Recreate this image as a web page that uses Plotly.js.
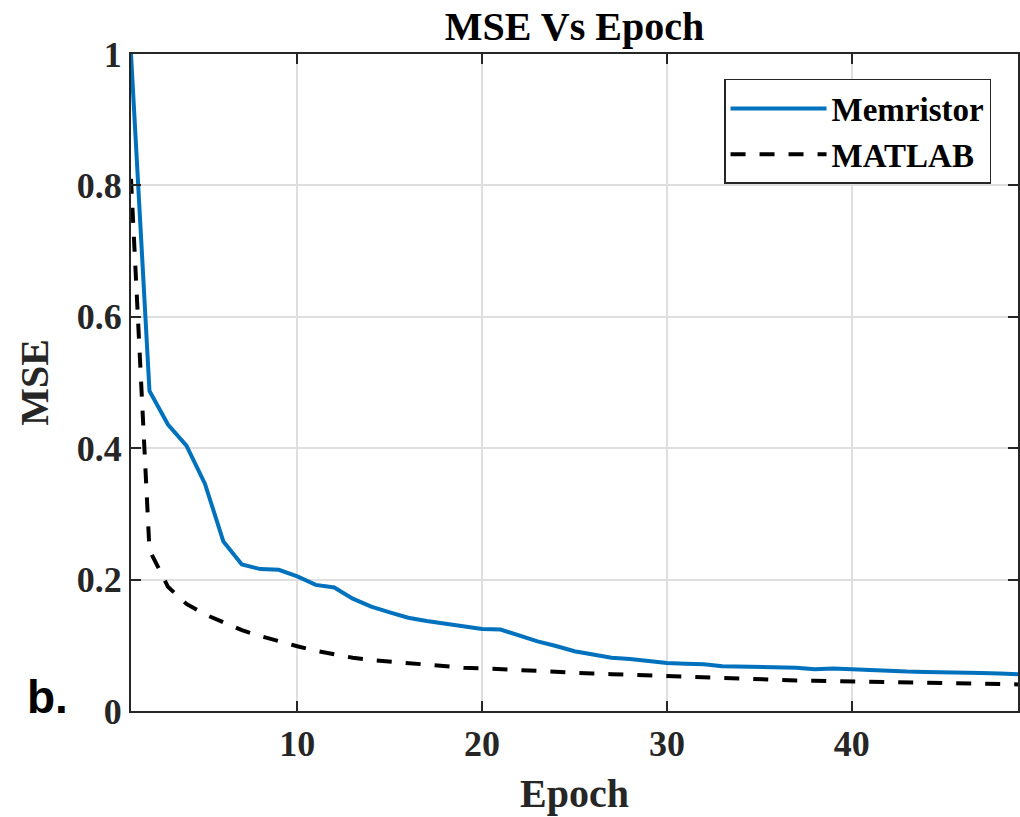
<!DOCTYPE html>
<html>
<head>
<meta charset="utf-8">
<script src="https://cdn.plot.ly/plotly-3.0.1.min.js"></script>
<style>html,body{margin:0;padding:0;background:#fff;}#chart{width:1020px;height:817px;}</style>
</head>
<body>
<div id="chart"></div>
<script>
const epochs = [1,2,3,4,5,6,7,8,9,10,11,12,13,14,15,16,17,18,19,20,21,22,23,24,25,26,27,28,29,30,31,32,33,34,35,36,37,38,39,40,41,42,43,44,45,46,47,48,49];
const memristorMSE = [1.0,0.487,0.436,0.404,0.346,0.258,0.223,0.216,0.215,0.205,0.192,0.188,0.171,0.159,0.150,0.142,0.137,0.133,0.129,0.125,0.124,0.115,0.106,0.099,0.091,0.086,0.081,0.079,0.076,0.073,0.072,0.071,0.068,0.0675,0.0665,0.0655,0.066,0.0635,0.0645,0.0635,0.062,0.061,0.060,0.0595,0.0595,0.059,0.058,0.057,0.056];
const matlabMSE = [0.81,0.245,0.189,0.163,0.147,0.1345,0.123,0.114,0.1055,0.0985,0.0915,0.086,0.081,0.0775,0.075,0.073,0.0705,0.068,0.066,0.065,0.0635,0.0625,0.061,0.0595,0.058,0.057,0.056,0.055,0.054,0.0525,0.0515,0.0505,0.0495,0.0485,0.048,0.047,0.0465,0.046,0.0455,0.045,0.0445,0.0435,0.043,0.0427,0.042,0.0418,0.0412,0.041,0.0405];
const xTickVals = [10,20,30,40];
const xTickText = ['10','20','30','40'];
const yTickVals = [0,0.2,0.4,0.6,0.8,1];
const yTickText = ['0','0.2','0.4','0.6','0.8','1'];
const seriesNames = ['Memristor','MATLAB'];

const serif = 'Liberation Serif, Times New Roman, serif';
const axisCommon = {
  showline: true, linecolor: '#262626', linewidth: 2, mirror: 'ticks',
  ticks: 'inside', ticklen: 10, tickwidth: 2, tickcolor: '#262626',
  showgrid: true, gridcolor: '#dfdfdf', gridwidth: 2, zeroline: false,
  tickfont: {family: serif, size: 36, color: '#262626', weight: 'bold'}
};

const data = [
  {x: epochs, y: memristorMSE, name: seriesNames[0], type: 'scatter', mode: 'lines',
   line: {color: '#0072BD', width: 4}},
  {x: epochs, y: matlabMSE, name: seriesNames[1], type: 'scatter', mode: 'lines',
   line: {color: '#000000', width: 4, dash: '15px,14px'}}
];

const layout = {
  width: 1020, height: 817,
  margin: {l: 131, r: 2, t: 54, b: 106},
  paper_bgcolor: '#fff', plot_bgcolor: '#fff',
  showlegend: true,
  title: {text: 'MSE Vs Epoch', x: 0.5, xref: 'paper', y: 0.985, yref: 'container', yanchor: 'top',
          font: {family: serif, size: 40, color: '#000', weight: 'bold'}},
  xaxis: Object.assign({}, axisCommon, {
    range: [1, 49], tickvals: xTickVals, ticktext: xTickText,
    title: {text: 'Epoch', standoff: 16, font: {family: serif, size: 40, color: '#262626', weight: 'bold'}}
  }),
  yaxis: Object.assign({}, axisCommon, {
    range: [0, 1], tickvals: yTickVals, ticktext: yTickText,
    title: {text: 'MSE', standoff: 16, font: {family: serif, size: 40, color: '#262626', weight: 'bold'}}
  }),
  legend: {x: 0.9696, xanchor: 'right', y: 0.962, yanchor: 'top',
    bgcolor: '#fff', bordercolor: '#262626', borderwidth: 1.5, itemwidth: 96,
    font: {family: serif, size: 33, color: '#000', weight: 'bold'}},
  annotations: [{text: 'b.', xref: 'paper', yref: 'paper', x: -0.0936, y: 0.021,
    xanchor: 'center', yanchor: 'middle', showarrow: false,
    font: {family: 'Liberation Sans, Arial, sans-serif', size: 46, color: '#000', weight: 'bold'}}]
};

Plotly.newPlot('chart', data, layout, {displayModeBar: false, staticPlot: true});
</script>
</body>
</html>
